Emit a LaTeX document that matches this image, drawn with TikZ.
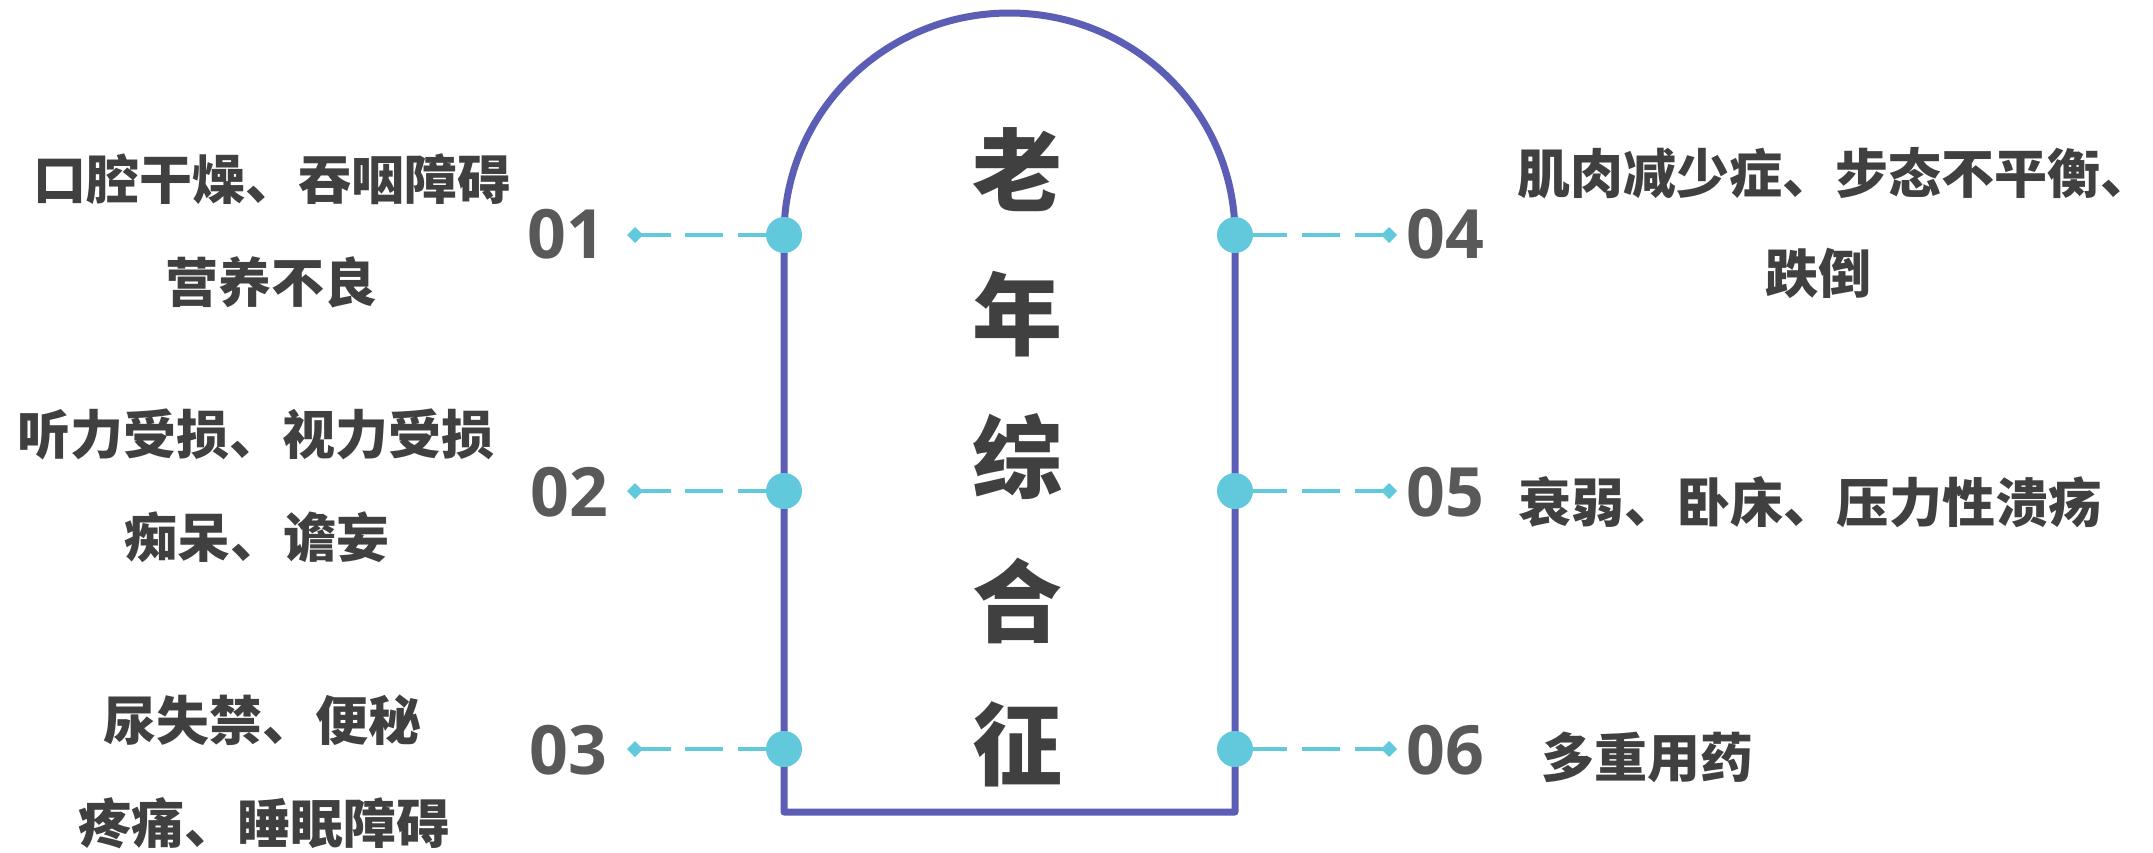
\documentclass[tikz,border=0pt]{standalone}
\usepackage{fontspec}
\usetikzlibrary{arrows.meta}
\newfontfamily\cjk{Noto Sans CJK SC}
\newfontfamily\numf{Open Sans}
\definecolor{archc}{HTML}{5B5EB4}
\definecolor{dotc}{HTML}{62C9DD}
\definecolor{txtc}{HTML}{404040}
\definecolor{numc}{HTML}{595959}
\begin{document}
\begin{tikzpicture}[x=1pt,y=-1pt,
  item/.style={inner sep=0pt, text=txtc, font=\cjk\bfseries\fontsize{53}{60}\selectfont},
  num/.style={inner sep=0pt, text=numc, font=\numf\bfseries\fontsize{68}{70}\selectfont},
  ttl/.style={inner sep=0pt, text=txtc, font=\cjk\bfseries\fontsize{90}{95}\selectfont},
  dotn/.style={circle, fill=dotc, minimum size=36pt, inner sep=0pt},
  conn/.style={draw=dotc, line width=4pt, -{Diamond[length=16pt,width=16pt,fill=dotc]}},
  connl/.style={conn, dash pattern=on 28pt off 15pt on 38pt off 14pt on 80pt},
  connr/.style={conn, dash pattern=on 34pt off 15pt on 38pt off 15pt on 80pt},
]
\useasboundingbox (0,0) rectangle (2153,852);
% arch frame
\draw[archc, line width=7pt, line join=round]
  (784,812) -- (784,235) arc[start angle=180, end angle=360, x radius=225.5, y radius=222]
  -- (1235,812) -- cycle;
% dots
\node[dotn] (dl1) at (784,235) {};
\node[dotn] (dl2) at (784,491) {};
\node[dotn] (dl3) at (784,749) {};
\node[dotn] (dr1) at (1235,235) {};
\node[dotn] (dr2) at (1235,491) {};
\node[dotn] (dr3) at (1235,749) {};
% connector ends
\coordinate (cl1) at (627,235);
\coordinate (cl2) at (627,491);
\coordinate (cl3) at (627,749);
\coordinate (cr1) at (1397,235);
\coordinate (cr2) at (1397,491);
\coordinate (cr3) at (1397,749);
\draw[connl] (dl1.west) -- (cl1);
\draw[connl] (dl2.west) -- (cl2);
\draw[connl] (dl3.west) -- (cl3);
\draw[connr] (dr1.east) -- (cr1);
\draw[connr] (dr2.east) -- (cr2);
\draw[connr] (dr3.east) -- (cr3);
% numbers
\node[num] (n1) at (566,234) {01};
\node[num] (n2) at (569,492) {02};
\node[num] (n3) at (568,750) {03};
\node[num] (n4) at (1445,234) {04};
\node[num] (n5) at (1445,492) {05};
\node[num] (n6) at (1445,750) {06};
% title
\node[ttl] (t1) at (1017,170) {老};
\node[ttl] (t2) at (1017,314) {年};
\node[ttl] (t3) at (1017,457) {综};
\node[ttl] (t4) at (1017,601) {合};
\node[ttl] (t5) at (1017,744) {征};
% items
\node[item] (l1a) at (272,179) {口腔干燥、吞咽障碍};
\node[item] (l1b) at (271,282) {营养不良};
\node[item] (l2a) at (256,434) {听力受损、视力受损};
\node[item] (l2b) at (257,537) {痴呆、谵妄};
\node[item] (l3a) at (262,720) {尿失禁、便秘};
\node[item] (l3b) at (264,823) {疼痛、睡眠障碍};
\node[item, anchor=west] (r1a) at (1517,173) {肌肉减少症、步态不平衡、};
\node[item] (r1b) at (1818,273) {跌倒};
\node[item] (r2) at (1810,502) {衰弱、卧床、压力性溃疡};
\node[item] (r3) at (1647,757) {多重用药};
\end{tikzpicture}
\end{document}
